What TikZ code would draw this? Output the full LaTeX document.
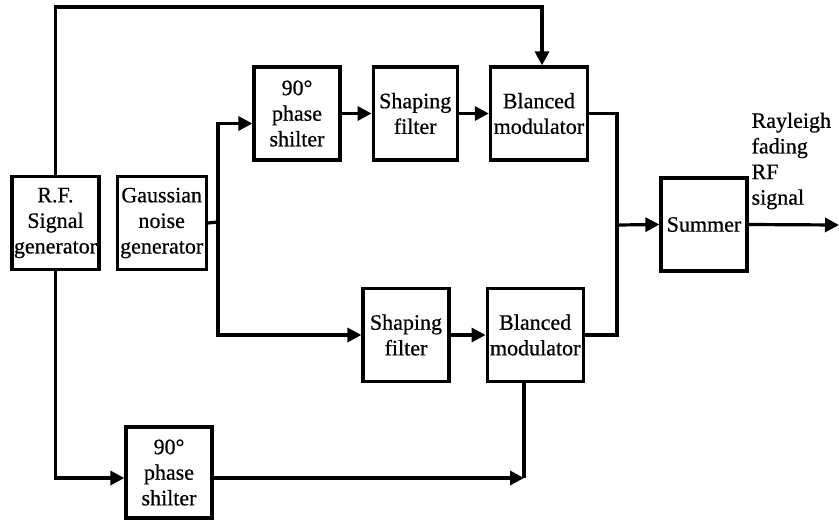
\documentclass[tikz,border=0pt]{standalone}
\usepackage{fontspec}
\setmainfont[FakeBold=0.6]{Liberation Serif}
\usetikzlibrary{arrows.meta,positioning}

\begin{document}
\begin{tikzpicture}[x=0.5pt,y=-0.5pt,>={Triangle[length=7pt,width=7pt]},line width=1.6pt,
  block/.style={draw,inner sep=0pt,align=center,minimum height=46.5pt,font=\fontsize{11}{12.8}\selectfont}]
\useasboundingbox (0,0) rectangle (839,520);
\node[block,minimum width=43.5pt] (rf) at (55.5,223) {R.F.\\Signal\\generator};
\node[block,minimum width=44.5pt] (gauss) [right=7.5pt of rf] {Gaussian\\noise\\generator};
\node[block,minimum width=43pt] (ps1) at (297,113.5) {90°\\phase\\shilter};
\node[block,minimum width=42pt] (sf1) [right=15pt of ps1] {Shaping\\filter};
\node[block,minimum width=48.5pt] (bm1) [right=15pt of sf1] {Blanced\\modulator};
\node[block,minimum width=43pt] (sf2) at (406,335) {Shaping\\filter};
\node[block,minimum width=48pt] (bm2) [right=17.5pt of sf2] {Blanced\\modulator};
\node[block,minimum width=43pt] (sum) at (704,224.5) {Summer};
\node[block,minimum width=43pt,minimum height=45.5pt] (ps2) at (169,472.5) {90°\\phase\\shilter};
\node[anchor=north west,inner sep=0pt,align=left,font=\fontsize{11}{12.8}\selectfont] (out) at (750,111) {Rayleigh\\fading\\RF\\signal};
\coordinate (ctop) at (542,7);
\coordinate (split) at (218,222);
\coordinate (merge) at (617,225);
\coordinate (cbot) at (524,478);
\coordinate (end) at (839,225);
% RF carrier paths
\draw[->] (rf.north) |- (ctop) -- (ctop |- bm1.north);
\draw[->] (rf.south) |- (ps2.west |- cbot);
\draw[->] (ps2.east |- cbot) -- (cbot);
\draw (bm2.south -| cbot) -- (cbot);
% noise branches
\draw (gauss.east) -- (split);
\draw[->] (split) |- ([yshift=-5pt]ps1.west);
\draw[->] (split) |- (sf2.west);
\draw[->] (ps1) -- (sf1);
\draw[->] (sf1) -- (bm1);
\draw[->] (sf2) -- (bm2);
% sum
\draw (bm1.east) -| (merge) |- (bm2.east);
\draw[->] (merge) -- (sum.west);
\draw[->] (sum.east) -- (end);
\end{tikzpicture}
\end{document}
